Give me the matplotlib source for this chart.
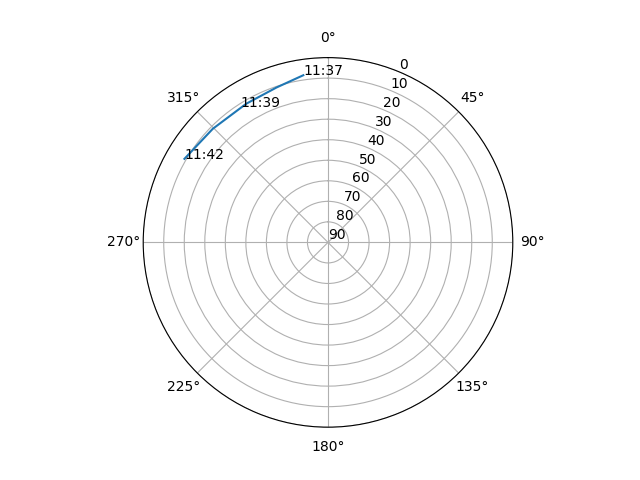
import numpy as np
import matplotlib
matplotlib.use("Agg")
import matplotlib.pyplot as plt

# satellite track (azimuth in degrees, elevation in degrees)
azimuth = [351.6, 341.6, 329.5, 314.6, 300.2]
elevation = [7.7, 10.5, 11.6, 11.2, 9.1]

# time labels and where they sit
label_times = ["11:37", "11:39", "11:42"]
label_az = [351.6, 327.1, 300.2]
label_el = [7.7, 11.6, 9.1]

fig = plt.figure(figsize=(6.4, 4.8), dpi=100)
ax = fig.add_subplot(111, projection="polar")
ax.set_theta_zero_location("N")
ax.set_theta_direction(-1)

ax.plot(np.radians(azimuth), elevation)
for t, a, e in zip(label_times, label_az, label_el):
    ax.text(np.radians(a), e, t)

ax.set_yticks(range(0, 91, 10))
ax.set_ylim(90, 0)

fig.savefig("out.png")
